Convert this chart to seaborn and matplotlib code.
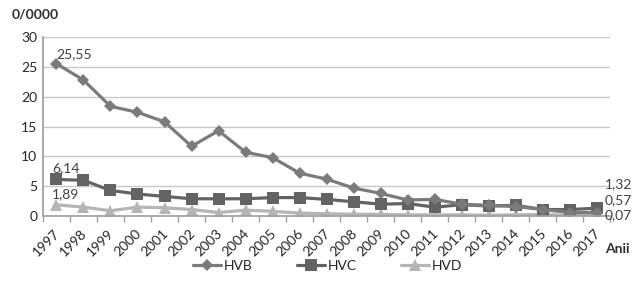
import pandas as pd
import seaborn as sns
import matplotlib.pyplot as plt
from matplotlib.transforms import ScaledTranslation

sns.set_theme(style="white")
plt.rcParams["font.family"] = ["Lato", "DejaVu Sans"]
plt.rcParams["savefig.bbox"] = "standard"

years = [str(y) for y in range(1997, 2018)]
hvb = [25.55, 22.8, 18.4, 17.4, 15.8, 11.7, 14.3, 10.7, 9.8, 7.2, 6.2,
       4.7, 3.8, 2.7, 2.8, 2.0, 1.8, 1.6, 1.1, 0.6, 0.57]
hvc = [6.14, 6.0, 4.3, 3.7, 3.3, 2.9, 2.9, 2.9, 3.1, 3.1, 2.8,
       2.4, 2.0, 2.1, 1.5, 1.9, 1.7, 1.8, 1.1, 1.1, 1.32]
hvd = [1.89, 1.5, 0.9, 1.5, 1.4, 1.1, 0.6, 1.0, 0.8, 0.5, 0.4,
       0.3, 0.3, 0.2, 0.2, 0.2, 0.15, 0.2, 0.3, 0.1, 0.07]

df = pd.DataFrame({"year": years, "HVB": hvb, "HVC": hvc, "HVD": hvd})
df["pos"] = range(len(years))
long = df.melt(id_vars=["year", "pos"], var_name="serie", value_name="val")

colors = {"HVB": "#7b7b7b", "HVC": "#636363", "HVD": "#b5b5b5"}
markers = {"HVB": "D", "HVC": "s", "HVD": "^"}
msize = {"HVB": 6.5, "HVC": 8.5, "HVD": 8}

fig = plt.figure(figsize=(6.41, 2.81), dpi=100)
ax = fig.add_axes([0.067, 0.231, 0.885, 0.637])

for s in ["HVD", "HVC", "HVB"]:
    sub = long[long["serie"] == s]
    sns.lineplot(data=sub, x="pos", y="val", ax=ax, color=colors[s], lw=2.3,
                 marker=markers[s], markersize=msize[s], markeredgewidth=0,
                 label=s)

ax.set_xlim(-0.5, len(years) - 0.5)
ax.set_ylim(0, 30)
ax.set_yticks(range(0, 31, 5))
ax.yaxis.grid(True, color="#c8c8c8", lw=1)
ax.set_xticks(range(len(years)))
ax.set_xticklabels(years, rotation=45, ha="right", va="center",
                   rotation_mode="anchor", fontsize=10)
ax.tick_params(axis="y", labelsize=10, pad=4, length=0)
ax.tick_params(axis="x", which="major", length=0, pad=0)
shift = ScaledTranslation(1 / 72, -11 / 72, fig.dpi_scale_trans)
for lab in ax.get_xticklabels():
    lab.set_transform(lab.get_transform() + shift)
ax.set_xlabel("")
ax.set_ylabel("")
for sp in ["top", "right"]:
    ax.spines[sp].set_visible(False)
ax.spines["left"].set_color("#a0a0a0")
ax.spines["bottom"].set_color("#a0a0a0")
# minor ticks between categories
ax.set_xticks([i - 0.5 for i in range(len(years) + 1)], minor=True)
ax.tick_params(axis="x", which="minor", length=4, color="#a0a0a0", bottom=True)

fmt = lambda v: f"{v:.2f}".replace(".", ",")
ax.annotate(fmt(hvb[0]), (0, hvb[0]), xytext=(0, 4), textcoords="offset points",
            fontsize=10, color="#404040")
ax.annotate(fmt(hvc[0]), (0, hvc[0]), xytext=(-3, 5), textcoords="offset points",
            fontsize=10, color="#404040")
ax.annotate(fmt(hvd[0]), (0, hvd[0]), xytext=(-3, 5), textcoords="offset points",
            fontsize=10, color="#404040")
last = len(years) - 1
for v, dy in [(hvc[-1], 5.3), (hvb[-1], 2.7), (hvd[-1], 0.1)]:
    ax.text(last + 0.3, dy, fmt(v), fontsize=10, color="#404040",
            va="center", ha="left", clip_on=False)

handles, labels = ax.get_legend_handles_labels()
order = [labels.index(l) for l in ["HVB", "HVC", "HVD"]]
ax.get_legend().remove()
fig.legend([handles[i] for i in order], [labels[i] for i in order],
           loc="center", bbox_to_anchor=(0.511, 0.053), ncol=3,
           frameon=False, fontsize=10, columnspacing=3.2, handlelength=2.0,
           handletextpad=0.2, borderpad=0)

fig.text(0.018, 0.935, "0/0000", fontsize=10, fontweight="bold", color="#303030")
fig.text(0.944, 0.1, "Anii", fontsize=10, fontweight="bold", color="#303030")

fig.savefig("out.png", dpi=100, bbox_inches=None)
